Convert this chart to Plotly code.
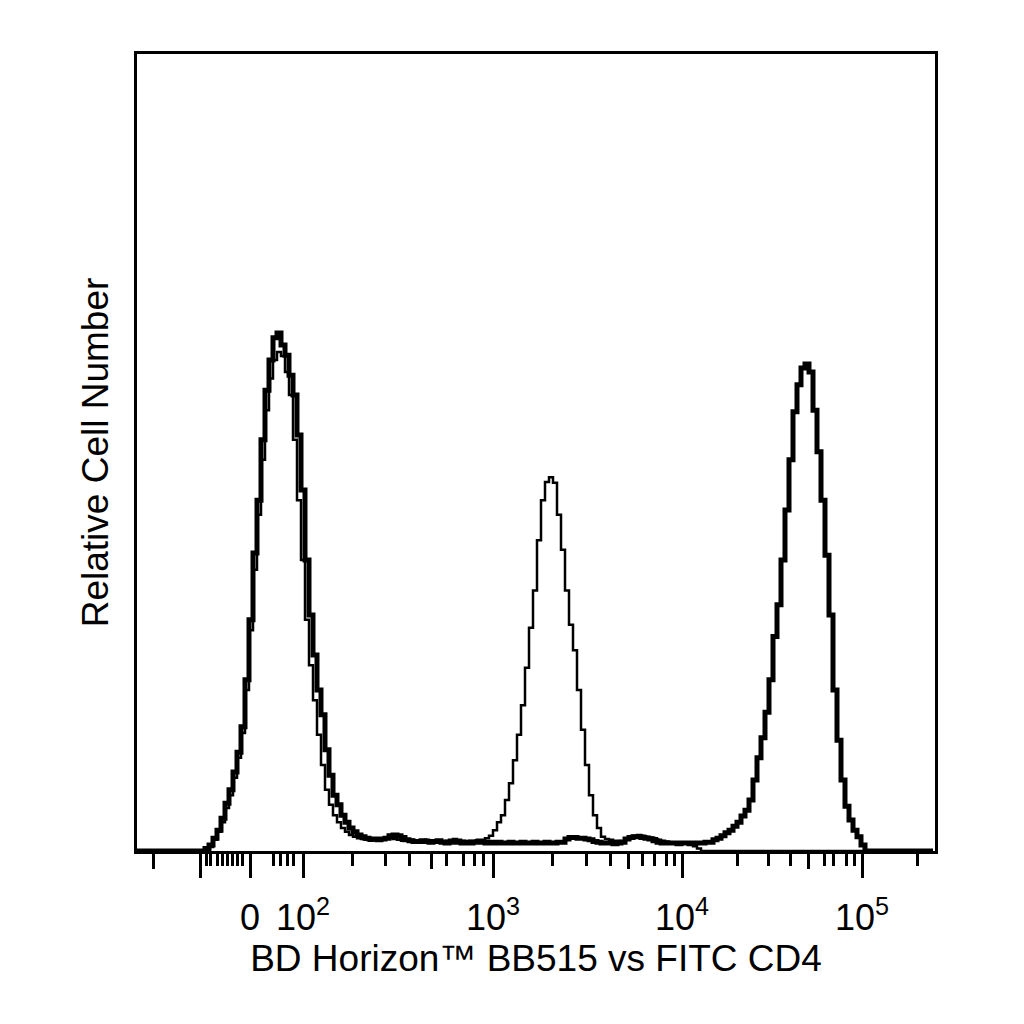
import plotly.graph_objects as go

# ---- data: histogram counts (relative, % of plot height) per channel bin ----
BIN_WIDTH = 4  # channel units per bin
N_BINS = 200

cd4_stained = [0]*17 + [
    0.3, 0.75, 1.6, 2.6, 4.1, 6.0, 7.7, 9.9, 12.4, 15.6, 21.5, 29.0, 37.4, 44.0, 51.6, 57.8,
    61.6, 64.4, 65.0, 63.5, 62.2, 59.7, 57.2, 52.2, 45.3, 36.5, 29.6, 24.6, 20.2, 17.1, 12.7,
    9.5, 7.0, 5.8, 4.5, 3.6, 2.9, 2.4, 2.0, 1.8, 1.6, 1.5, 1.5, 1.4, 1.5, 1.6, 1.9, 2.0, 1.9,
    1.7, 1.4, 1.3, 1.2, 1.2, 1.3, 1.2, 1.1, 1.2, 1.3, 1.1, 1.0, 1.1, 1.2, 1.1, 1.0, 1.1, 1.0,
    1.1, 1.2, 1.1, 1.0, 1.1, 1.0, 1.1, 1.0, 1.0, 1.1, 1.0, 1.0, 1.1, 1.0, 1.0, 1.1, 1.0, 1.0,
    1.1, 1.0, 1.0, 1.1, 1.1, 1.5, 1.7, 1.7, 1.6, 1.6, 1.5, 1.4, 1.2, 1.1, 1.0, 1.0, 1.0, 0.9,
    1.0, 1.1, 1.5, 1.7, 1.8, 1.8, 1.7, 1.6, 1.5, 1.3, 1.1, 1.0, 1.0, 1.0, 1.0, 0.9, 1.0, 1.0,
    0.9, 1.0, 1.0, 1.0, 1.1, 1.1, 1.4, 1.6, 1.9, 2.3, 2.6, 3.1, 3.6, 4.4, 5.1, 6.4, 8.9, 11.7,
    14.2, 17.4, 21.5, 26.9, 30.9, 36.5, 42.8, 49.1, 55.1, 58.5, 60.6, 61.1, 60.1, 55.3, 50.1,
    44.0, 37.1, 29.6, 20.2, 13.9, 8.9, 5.6, 3.9, 2.6, 1.8, 0.75,
] + [0]*18

bb515 = [0]*17 + [
    0.2, 0.5, 1.4, 2.4, 3.6, 5.4, 7.0, 9.2, 11.7, 14.8, 20.2, 27.7, 35.3, 42.2, 49.1, 55.3,
    59.3, 61.6, 62.6, 62.1, 60.1, 57.2, 51.6, 44.0, 36.5, 29.0, 23.3, 18.9, 14.6, 10.8, 7.7,
    5.8, 4.5, 3.6, 2.9, 2.4, 2.0, 1.8, 1.6,
    1.5, 1.4, 1.3, 1.4, 1.5, 1.6, 1.7, 1.6, 1.5, 1.4, 1.3, 1.3, 1.4, 1.3, 1.2, 1.3, 1.4, 1.3,
    1.2, 1.3, 1.2, 1.3, 1.4, 1.5, 1.4, 1.3, 1.2, 1.3, 1.3, 1.4, 1.4,
    1.6, 1.9, 2.6, 3.6, 4.5, 6.4, 8.5, 11.4, 14.6, 18.3, 23.0, 28.0, 32.7, 39.0, 44.0, 46.3,
    46.9, 46.2, 42.2, 37.8, 32.7, 28.4, 25.2, 20.2, 15.2, 10.8, 7.0, 4.5, 2.9, 1.8,
    1.5, 1.4, 1.3, 1.3, 1.2, 1.4, 1.7, 1.9, 2.0, 1.9, 1.8, 1.7, 1.6, 1.4, 1.3, 1.2, 1.1, 1.0,
    1.0, 0.9, 0.9, 0.8, 0.6, 0.3,
]
bb515 = bb515 + [0]*(N_BINS - len(bb515))

channels = [i*BIN_WIDTH for i in range(N_BINS)]

# ---- biexponential axis ticks (channel positions) ----
major_ticks = [63, 113, 166, 356, 545, 725]
major_labels = ["", "0", "10<sup>2</sup>", "10<sup>3</sup>", "10<sup>4</sup>", "10<sup>5</sup>"]
medium_ticks = [16, 294, 491, 671]
minor_ticks = [69, 73, 80, 85, 90, 95, 100, 105, 136, 143, 150, 156,
               215, 248, 272, 309, 326, 337, 346,
               415, 449, 473, 505, 517, 529, 537,
               600, 631, 653, 687, 696, 709, 717, 780]

X_RANGE = [0, 798]
Y_RANGE = [0, 100]

FONT = "Liberation Sans, Arial, sans-serif"

fig = go.Figure()
fig.add_trace(go.Scatter(x=channels, y=cd4_stained, mode="lines", line_shape="hv",
                         line=dict(color="black", width=5), showlegend=False, hoverinfo="skip"))
fig.add_trace(go.Scatter(x=channels, y=bb515, mode="lines", line_shape="hv",
                         line=dict(color="black", width=2.5), showlegend=False, hoverinfo="skip"))
# empty trace so the overlay axis carrying medium ticks is rendered
fig.add_trace(go.Scatter(x=[], y=[], xaxis="x2", showlegend=False, hoverinfo="skip"))

fig.update_layout(
    width=1024, height=1024,
    margin=dict(l=129, r=97, t=46, b=181),
    paper_bgcolor="white", plot_bgcolor="white",
    font=dict(family=FONT, color="black"),
    xaxis=dict(
        range=X_RANGE, showgrid=False, zeroline=False,
        showline=True, mirror=True, linecolor="black", linewidth=2.5,
        tickmode="array", tickvals=major_ticks, ticktext=major_labels,
        ticks="outside", ticklen=24, tickwidth=2.5, tickcolor="black",
        tickfont=dict(size=36, family=FONT, color="black"),
        ticklabelstandoff=9,
        minor=dict(tickmode="array", tickvals=minor_ticks, ticks="outside",
                   ticklen=12, tickwidth=2.5, tickcolor="black", showgrid=False),
        title=dict(text="BD Horizon™ BB515 vs FITC CD4", font=dict(size=37, family=FONT, color="black"),
                   standoff=0),
    ),
    xaxis2=dict(
        range=X_RANGE, overlaying="x", anchor="y", side="bottom",
        showgrid=False, zeroline=False, showline=False,
        tickmode="array", tickvals=medium_ticks, ticks="outside", ticklen=17,
        tickwidth=2.5, tickcolor="black", showticklabels=False,
    ),
    yaxis=dict(
        range=Y_RANGE, showgrid=False, zeroline=False,
        showline=True, mirror=True, linecolor="black", linewidth=2.5,
        ticks="", showticklabels=False,
        title=dict(text="Relative Cell Number", font=dict(size=37, family=FONT, color="black"),
                   standoff=15),
    ),
)

fig.write_html("out.html")
